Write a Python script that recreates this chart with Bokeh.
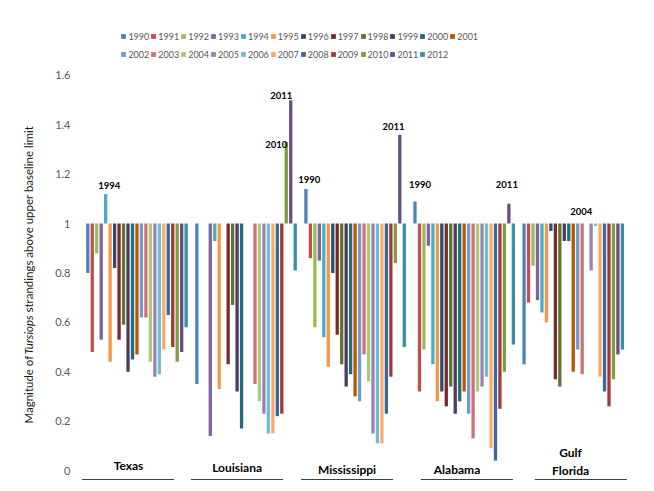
import numpy as np
from bokeh.plotting import figure
from bokeh.layouts import row
from bokeh.models import (Range1d, FixedTicker, CustomJSTickFormatter, Legend,
                          LegendItem, Label, ColumnDataSource)
from bokeh.core.properties import value
from bokeh.embed import file_html
from bokeh.resources import INLINE

nan = float("nan")

# ---------------- data ----------------
years = list(range(1990, 2013))
regions = ["Texas", "Louisiana", "Mississippi", "Alabama", "Gulf\nFlorida"]

texas = [0.80, 0.48, 0.88, 0.53, 1.12, 0.44, 0.82, 0.53, 0.59, 0.40, 0.45, 0.47,
         0.62, 0.62, 0.44, 0.38, 0.39, 0.49, 0.63, 0.50, 0.44, 0.48, 0.58]
louisiana = [0.35, nan, nan, 0.14, 0.93, 0.33, nan, 0.43, 0.67, 0.32, 0.17, nan,
             nan, 0.35, 0.28, 0.23, 0.15, 0.15, 0.22, 0.23, 1.33, 1.50, 0.81]
mississippi = [1.14, 0.86, 0.58, 0.85, 0.54, 0.42, 0.80, 0.55, 0.43, 0.34, 0.39, 0.30,
               0.28, 0.47, 0.36, 0.15, 0.11, 0.11, 0.23, 0.38, 0.84, 1.36, 0.50]
alabama = [1.09, 0.32, 0.49, 0.91, 0.43, 0.28, 0.32, 0.26, 0.34, 0.23, 0.28, 0.32,
           0.23, 0.13, 0.32, 0.34, 0.38, 0.09, 0.04, 0.25, 0.40, 1.08, 0.51]
gulf_florida = [0.43, 0.68, 0.83, 0.69, 0.64, 0.60, 0.97, 0.37, 0.34, 0.93, 0.93, 0.40,
                0.49, 0.39, 1.00, 0.81, 0.99, 0.38, 0.32, 0.26, 0.37, 0.47, 0.49]
series = [texas, louisiana, mississippi, alabama, gulf_florida]

baseline = 1.0
y_ticks = [0, 0.2, 0.4, 0.6, 0.8, 1.0, 1.2, 1.4, 1.6]

# labelled peak bars (region index, year)
label_region = [0, 1, 1, 2, 2, 3, 3, 4]
label_year = [1994, 2010, 2011, 1990, 2011, 1990, 2011, 2004]

# ---------------- layout / style ----------------
colors = ["#4F81BD", "#C0504D", "#9BBB59", "#8064A2", "#4BACC6", "#F79646",
          "#2C4D75", "#772C2A", "#5F7530", "#4D3B62", "#276A7C", "#B65708",
          "#729ACA", "#CD7371", "#AFC97A", "#9983B5", "#6FBDD1", "#F9AB6B",
          "#3A679C", "#9C3B38", "#7E9C40", "#664F83", "#3A8FA7"]
GROUP = 24.4          # slots per region
BAR_W = 0.74
label_dx = [3.6, -10, -9.5, 3.3, -6.4, 5, -2, -5.4]
label_dy = [-8, 2.6, -5, -9.3, -8.3, -16.7, -19, -11.6]
region_label_off = [9.1, 9.0, 9.2, 9.4, 10.4]
region_label_dy = [-5, -3.3, -1, -1, -9.5]
underline_center = [9.0, 9.0, 9.2, 11.6, 12.7]
underline_half = 10.3
PX_PER_UNIT = 246.9
FONT = "Lato"
TITLE_W = 40

p = figure(width=646 - TITLE_W, height=483, output_backend="svg", toolbar_location=None,
           x_range=Range1d(-2.528, 124.99), y_range=Range1d(-0.05265, 1.8712),
           x_axis_location=None, min_border_left=76 - TITLE_W, min_border_right=0,
           min_border_top=8, min_border_bottom=0)
p.outline_line_color = None
p.grid.visible = False

items = []
for j, yr in enumerate(years):
    xs = [g * GROUP + j for g in range(len(regions))]
    tops = [series[g][j] for g in range(len(regions))]
    src = ColumnDataSource(dict(x=xs, top=np.array(tops, dtype=float)))
    r = p.vbar(x="x", top="top", bottom=baseline, width=BAR_W, source=src,
               fill_color=colors[j], line_color=None)
    items.append(LegendItem(label=str(yr), renderers=[r]))

for k, its in enumerate([items[:12], items[12:]]):
    leg = Legend(items=its, orientation="horizontal",
                 location=(44.4, 441.5 - 18.3 * k),
                 glyph_width=6, glyph_height=6, label_standoff=2, spacing=1,
                 padding=0, margin=0, border_line_color=None,
                 background_fill_alpha=0, label_text_font=FONT,
                 label_text_font_size="9px", label_text_color="#595959",
                 label_height=9)
    p.add_layout(leg)

# data labels on peak bars
lx = [label_region[i] * GROUP + years.index(label_year[i]) for i in range(len(label_year))]
ly = [series[label_region[i]][years.index(label_year[i])] for i in range(len(label_year))]
p.text(x=lx, y=ly, text=[str(y) for y in label_year], x_offset=label_dx, y_offset=label_dy,
       text_align="center", text_baseline="middle", text_font=value(FONT),
       text_font_style="bold", text_font_size="9.5px", text_color="#000000")

# region labels and underlines
rx = [g * GROUP + region_label_off[g] for g in range(len(regions))]
p.text(x=rx, y=[0] * len(regions), text=regions, y_offset=region_label_dy,
       text_align="center", text_baseline="middle", text_font=value(FONT),
       text_font_style="bold", text_font_size="12px", text_color="#000000",
       text_line_height=1.2)
ux0 = [g * GROUP + underline_center[g] - underline_half for g in range(len(regions))]
ux1 = [g * GROUP + underline_center[g] + underline_half for g in range(len(regions))]
uy = -9 / PX_PER_UNIT
p.segment(x0=ux0, y0=[uy] * 5, x1=ux1, y1=[uy] * 5, line_color="#404040", line_width=1)

# y axis
ax = p.yaxis[0]
ax.ticker = FixedTicker(ticks=y_ticks)
ax.formatter = CustomJSTickFormatter(code="return (Math.round(tick*10)/10).toString();")
ax.axis_line_color = None
ax.major_tick_line_color = None
ax.minor_tick_line_color = None
ax.major_tick_out = 0
ax.major_label_standoff = 6
ax.major_label_text_font = FONT
ax.major_label_text_font_size = "11px"
ax.major_label_text_color = "#595959"

# y axis title (with italic genus name) in a narrow side figure
t = figure(width=TITLE_W, height=483, output_backend="svg", toolbar_location=None,
           x_axis_location=None, y_axis_location=None, min_border=0,
           x_range=Range1d(0, 1), y_range=Range1d(0, 1))
t.outline_line_color = None
t.grid.visible = False
title_parts = [("Magnitude of ", "normal"), ("Tursiops", "italic"),
               (" strandings above upper baseline limit", "normal")]
part_len = [69, 42]
y0 = 60
for i, (txt, style) in enumerate(title_parts):
    t.add_layout(Label(x=28, y=y0 + sum(part_len[:i]), x_units="screen", y_units="screen",
                       text=txt, angle=np.pi / 2, text_align="left", text_baseline="middle",
                       text_font=FONT, text_font_size="11.5px", text_font_style=style,
                       text_color="#1a1a1a"))

layout = row(t, p)
open("out.html", "w").write(file_html(layout, INLINE))
